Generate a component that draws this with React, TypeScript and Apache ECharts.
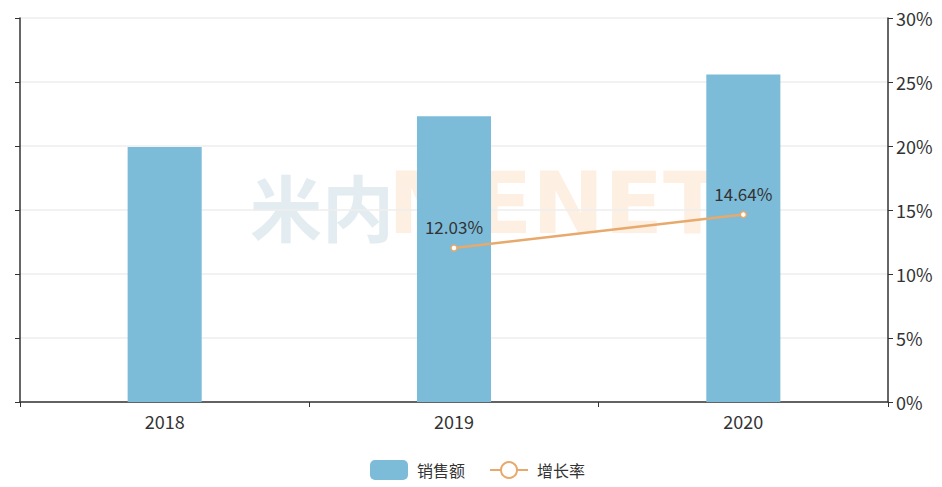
import React, { useEffect, useRef } from "react";
import * as echarts from "echarts";

const categories = ["2018", "2019", "2020"];
const salesValues = [19.92, 22.32, 25.59];
const growthValues: (number | null)[] = [null, 12.03, 14.64];
const rightTickMax = 30;
const rightTickInterval = 5;

export default function App() {
  const ref = useRef<HTMLDivElement>(null);
  useEffect(() => {
    if (!ref.current) return;
    const chart = echarts.init(ref.current, undefined, { renderer: "svg" });
    const font = "'Noto Sans CJK SC', 'Noto Sans', sans-serif";
    chart.setOption({
      animation: false,
      textStyle: { fontFamily: font },
      graphic: [
        {
          type: "text",
          left: 250,
          top: 168,
          z: -10,
          silent: true,
          style: { text: "米内", font: `bold 72px ${font}`, fill: "#e3ecf0" },
        },
        {
          type: "text",
          left: 388,
          top: 160,
          z: -10,
          silent: true,
          style: { text: "MENET", font: `bold 86px 'DejaVu Sans', sans-serif`, fill: "#fdefe2" },
        },
      ],
      grid: { left: 20, right: 54, top: 18, bottom: 85, containLabel: false },
      legend: {
        top: 455,
        left: 365,
        itemWidth: 38,
        itemHeight: 20,
        itemGap: 24,
        textStyle: { fontSize: 16, color: "#333", fontFamily: font, padding: [0, 0, 0, 4] },
        data: [
          { name: "销售额", icon: "roundRect" },
          { name: "增长率" },
        ],
      },
      xAxis: {
        type: "category",
        data: categories,
        axisLine: { lineStyle: { color: "#333", width: 1.5 } },
        axisTick: { show: true, length: 5, lineStyle: { color: "#333" } },
        axisLabel: { fontSize: 18, color: "#333", margin: 10 },
      },
      yAxis: [
        {
          type: "value",
          min: 0,
          max: 30,
          interval: 5,
          position: "left",
          axisLine: { show: true, lineStyle: { color: "#333", width: 1.5 } },
          axisTick: { show: true, length: 5, lineStyle: { color: "#333" } },
          axisLabel: { show: false },
          splitLine: { show: true, lineStyle: { color: "#eeeeee", width: 1.5 } },
        },
        {
          type: "value",
          min: 0,
          max: rightTickMax,
          interval: rightTickInterval,
          position: "right",
          axisLine: { show: true, lineStyle: { color: "#333", width: 1.5 } },
          axisTick: { show: true, length: 5, lineStyle: { color: "#333" } },
          axisLabel: { fontSize: 18, color: "#333", formatter: "{value}%", margin: 8 },
          splitLine: { show: false },
        },
      ],
      series: [
        {
          name: "销售额",
          type: "bar",
          data: salesValues,
          barWidth: "25.6%",
          yAxisIndex: 0,
          itemStyle: { color: "#7cbcd9" },
        },
        {
          name: "增长率",
          type: "line",
          data: growthValues,
          yAxisIndex: 1,
          symbol: "circle",
          symbolSize: 6,
          lineStyle: { color: "#e8a96c", width: 2.5 },
          itemStyle: { color: "#fff", borderColor: "#e8a96c", borderWidth: 1.5 },
          label: {
            show: true,
            position: "top",
            distance: 9,
            fontSize: 17,
            color: "#333",
            formatter: (p: any) => `${p.value}%`,
          },
        },
      ],
    });
    return () => chart.dispose();
  }, []);
  return <div ref={ref} style={{ width: 942, height: 487, position: "absolute", left: 0, top: 0 }} />;
}
